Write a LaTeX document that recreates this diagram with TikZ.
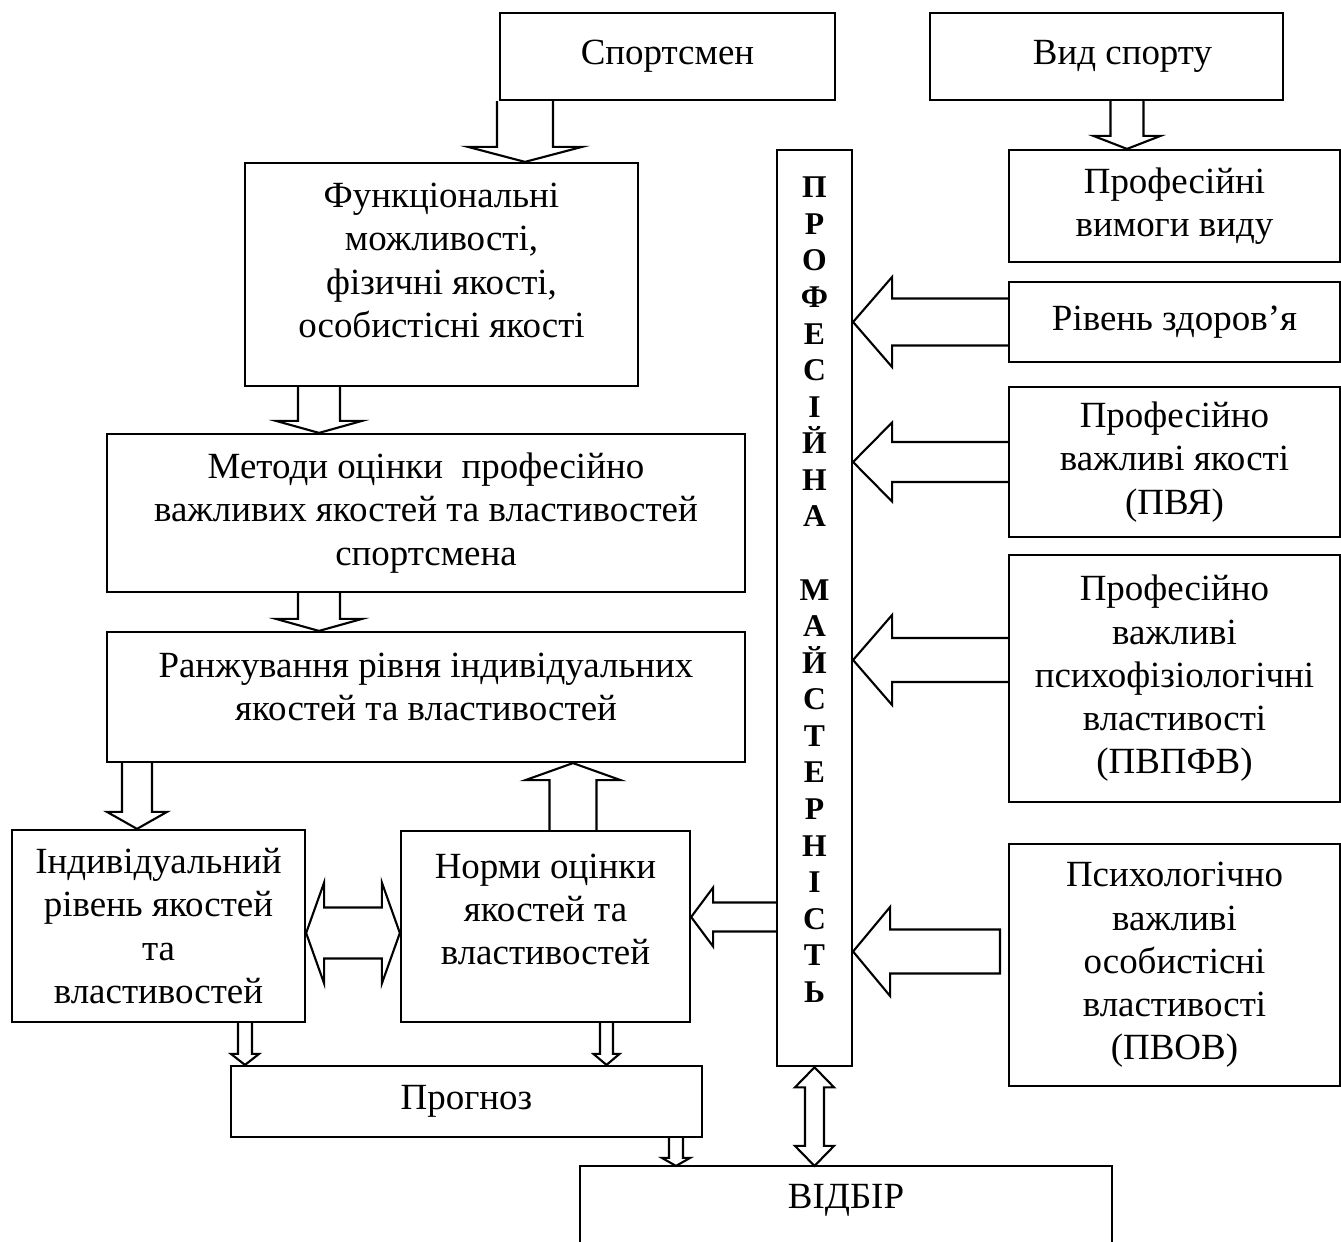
\documentclass[tikz,border=0pt]{standalone}
\usepackage{fontspec}
\setmainfont{Liberation Serif}
\usetikzlibrary{calc}
\tikzset{box/.style={draw, line width=0.6pt, inner sep=0pt, align=center,
    font=\fontsize{10.5pt}{12.3pt}\selectfont}}
\tikzset{blk/.style={draw, line width=0.6pt, line join=miter}}
\tikzset{pmfont/.style={font=\fontsize{9pt}{10.4pt}\selectfont\bfseries}}

% block arrow: [extra] from, to, shaft half, head half, head length
\newcommand{\barrow}[6][]{%
  \coordinate (ba) at (#2);
  \coordinate (bb) at (#3);
  \coordinate (bh) at ($(bb)!#6!(ba)$);
  \draw[blk] ($(ba)!#4!90:(bb)$) -- ($(bh)!#4!-90:(ba)$) -- ($(bh)!#5!-90:(ba)$)
    -- (bb) -- ($(bh)!#5!90:(ba)$) -- ($(bh)!#4!90:(ba)$) -- ($(ba)!#4!-90:(bb)$) #1;
}
% double block arrow
\newcommand{\dbarrow}[5]{%
  \coordinate (ba) at (#1);
  \coordinate (bb) at (#2);
  \coordinate (ha) at ($(ba)!#5!(bb)$);
  \coordinate (hb) at ($(bb)!#5!(ba)$);
  \draw[blk] (ba) -- ($(ha)!#4!90:(bb)$) -- ($(ha)!#3!90:(bb)$) -- ($(hb)!#3!-90:(ba)$)
    -- ($(hb)!#4!-90:(ba)$) -- (bb) -- ($(hb)!#4!90:(ba)$) -- ($(hb)!#3!90:(ba)$)
    -- ($(ha)!#3!-90:(bb)$) -- ($(ha)!#4!-90:(bb)$) -- cycle;
}

\begin{document}
\begin{tikzpicture}[x=0.01cm, y=-0.01cm]
    \useasboundingbox (0,0) rectangle (1341,1242);

    % left column
    \node(sport)[box, minimum width=3.35cm, minimum height=0.87cm] at (667.5,56.5) {Спортсмен};
    \node(fn)[box, minimum width=3.93cm, minimum height=2.23cm] at (441.5,274.5)
        {Функціональні\\можливості,\\фізичні якості,\\особистісні якості\\[-0.15cm]\mbox{}};
    \node(met)[box, minimum width=6.38cm, minimum height=1.58cm] at (426,513)
        {Методи оцінки \ професійно\\важливих якостей та властивостей\\спортсмена};
    \node(ran)[box, minimum width=6.38cm, minimum height=1.30cm] at (426,697)
        {Ранжування рівня індивідуальних\\якостей та властивостей\\[-0.23cm]\mbox{}};
    \node(ind)[box, minimum width=2.93cm, minimum height=1.92cm] at (158.5,926)
        {Індивідуальний\\рівень якостей\\та\\властивостей};
    \node(norm)[box, minimum width=2.89cm, minimum height=1.91cm] at (545.5,926.5)
        {Норми оцінки\\якостей та\\властивостей\\[-0.09cm]\mbox{}};
    \node(prog)[box, minimum width=4.71cm, minimum height=0.71cm] at (466.5,1101.5) {Прогноз};
    \node(sel)[box, draw=none, minimum width=5.30cm, minimum height=0.66cm] at (846,1200) {ВІДБІР};
    \draw[blk] (sel.south west) ++(0,60) |- (sel.north east) -- ++(0,100);

    % middle column
    \node(pm)[box, pmfont, minimum width=0.75cm, minimum height=9.16cm] at (814.5,608)
        {П\\Р\\О\\Ф\\Е\\С\\І\\Й\\Н\\А\\[10.4pt]М\\А\\Й\\С\\Т\\Е\\Р\\Н\\І\\С\\Т\\Ь\\\mbox{}};

    % right column
    \node(vid)[box, minimum width=3.53cm, minimum height=0.87cm] at (1106.5,56.5)
        {\hspace*{0.32cm}Вид спорту};
    \node(vim)[box, minimum width=3.31cm, minimum height=1.12cm] at (1174.5,206)
        {Професійні\\вимоги виду};
    \node(zdor)[box, minimum width=3.31cm, minimum height=0.80cm] at (1174.5,322) {Рівень здоров’я};
    \node(pvya)[box, minimum width=3.31cm, minimum height=1.50cm] at (1174.5,462)
        {Професійно\\важливі якості\\(ПВЯ)};
    \node(pvpfv)[box, minimum width=3.31cm, minimum height=2.47cm] at (1174.5,678.5)
        {Професійно\\важливі\\психофізіологічні\\властивості\\(ПВПФВ)};
    \node(pvov)[box, minimum width=3.31cm, minimum height=2.42cm] at (1174.5,965)
        {Психологічно\\важливі\\особистісні\\властивості\\(ПВОВ)};
    \coordinate (pvtail) at (1000,951.5);

    \barrow{525,0 |- sport.south}{525,0 |- fn.north}{2.8mm}{5.7mm}{1.5mm}
    \barrow{319,0 |- fn.south}{319,0 |- met.north}{2.1mm}{4.3mm}{1.2mm}
    \barrow{319,0 |- met.south}{319,0 |- ran.north}{2.1mm}{4.3mm}{1.2mm}
    \barrow{137,0 |- ran.south}{137,0 |- ind.north}{1.5mm}{3mm}{1.7mm}
    \barrow{573,0 |- norm.north}{573,0 |- ran.south}{2.35mm}{4.75mm}{1.7mm}
    \dbarrow{ind.east |- 0,933}{norm.west |- 0,933}{2.55mm}{5.05mm}{1.8mm}
    \barrow{pm.west |- 0,917}{norm.east |- 0,917}{1.45mm}{2.95mm}{2.2mm}
    \barrow{245,0 |- ind.south}{245,0 |- prog.north}{0.7mm}{1.4mm}{1.1mm}
    \barrow{606.5,0 |- norm.south}{606.5,0 |- prog.north}{0.65mm}{1.3mm}{1.1mm}
    \barrow{676,0 |- prog.south}{676,0 |- sel.north}{0.7mm}{1.4mm}{0.8mm}
    \dbarrow{pm.south}{pm.south |- sel.north}{0.95mm}{1.95mm}{2mm}

    \barrow{1127,0 |- vid.south}{1127,0 |- vim.north}{1.65mm}{3.35mm}{1.3mm}
    \barrow{zdor.west}{pm.east |- zdor.west}{2.35mm}{4.5mm}{3.9mm}
    \barrow{pvya.west}{pm.east |- pvya.west}{2mm}{3.95mm}{3.9mm}
    \barrow{pvpfv.west |- 0,660}{pm.east |- 0,660}{2.2mm}{4.5mm}{3.9mm}
    \barrow[-- cycle]{pvtail}{pm.east |- pvtail}{2.2mm}{4.45mm}{3.7mm}
\end{tikzpicture}
\end{document}
